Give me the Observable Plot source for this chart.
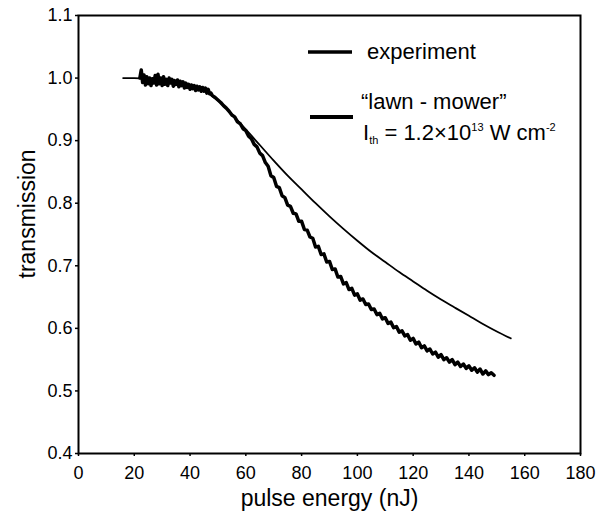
<!DOCTYPE html>
<html>
<head>
<meta charset="utf-8">
<script src="https://cdn.jsdelivr.net/npm/d3@7"></script>
<script src="https://cdn.jsdelivr.net/npm/@observablehq/plot@0.6"></script>
<style>
  html, body { margin: 0; padding: 0; background: white; }
  svg { display: block; }
</style>
</head>
<body>
<div id="chart"></div>
<script>
// Tick values
const xTicks = [0, 20, 40, 60, 80, 100, 120, 140, 160, 180];
const yTicks = [0.4, 0.5, 0.6, 0.7, 0.8, 0.9, 1.0, 1.1];

// "lawn - mower" model curve (pulse energy nJ, transmission)
const theoryE = [16, 20, 25, 30, 35, 40, 45, 50, 55, 60, 65, 70, 75, 80, 85, 90, 95, 100, 105, 110, 115, 120, 125, 130, 135, 140, 145, 150, 155];
const theoryT = [1.000, 1.000, 0.999, 0.997, 0.993, 0.988, 0.980, 0.964, 0.942, 0.918, 0.893, 0.868, 0.844, 0.822, 0.800, 0.779, 0.759, 0.740, 0.722, 0.706, 0.690, 0.675, 0.660, 0.646, 0.633, 0.620, 0.607, 0.595, 0.584];

// experiment trace (pulse energy nJ, transmission)
const expE = [22.0, 22.5, 23.0, 23.5, 24.0, 24.5, 25.0, 25.5, 26.0, 26.5, 27.0, 27.5, 28.0, 28.5, 29.0, 29.5, 30.0, 30.5, 31.0, 31.5, 32.0, 32.5, 33.0, 33.5, 34.0, 34.5, 35.0, 35.5, 36.0, 36.5, 37.0, 37.5, 38.0, 38.5, 39.0, 39.5, 40.0, 40.5, 41.0, 41.5, 42.0, 42.5, 43.0, 43.5, 44.0, 44.5, 45.0, 45.5, 46.0, 46.5, 47.0, 47.5,
  48, 49, 50, 51, 52, 53, 54, 55, 56, 57, 58, 59, 60, 61, 62, 63, 64, 65, 66, 67, 68, 69, 70, 71, 72, 73, 74, 75, 76, 77, 78, 79, 80, 81, 82, 83, 84, 85, 86, 87, 88, 89, 90, 91, 92, 93, 94, 95, 96, 97, 98, 99, 100, 101, 102, 103, 104, 105, 106, 107, 108, 109, 110,
  111, 112, 113, 114, 115, 116, 117, 118, 119, 120, 121, 122, 123, 124, 125, 126, 127, 128, 129, 130, 131, 132, 133, 134, 135, 136, 137, 138, 139, 140, 141, 142, 143, 144, 145, 146, 147, 148, 149, 149.5];
const expT = [1.000, 1.013, 0.993, 1.005, 0.989, 1.002, 0.991, 1.000, 0.988, 0.999, 0.992, 1.004, 0.989, 1.006, 0.991, 1.000, 0.988, 1.002, 0.990, 0.998, 0.988, 1.000, 0.992, 0.998, 0.987, 0.996, 0.990, 0.997, 0.986, 0.995, 0.988, 0.994, 0.984, 0.992, 0.985, 0.990, 0.982, 0.989, 0.983, 0.988, 0.980, 0.987, 0.981, 0.986, 0.979, 0.985, 0.979, 0.984, 0.976, 0.982, 0.975, 0.976,
  0.972, 0.969, 0.965, 0.961, 0.956, 0.952, 0.947, 0.941, 0.938, 0.930, 0.927, 0.919, 0.916, 0.907, 0.903, 0.894, 0.890, 0.880, 0.876, 0.865, 0.859, 0.844, 0.841, 0.827, 0.825, 0.812, 0.809, 0.797, 0.795, 0.784, 0.783, 0.771, 0.771, 0.758, 0.757, 0.746, 0.744, 0.730, 0.731, 0.718, 0.719, 0.706, 0.707, 0.694, 0.695, 0.682, 0.683, 0.671, 0.673, 0.662, 0.664, 0.653, 0.655, 0.645, 0.647, 0.638, 0.639, 0.630, 0.631, 0.622, 0.624, 0.615, 0.617,
  0.608, 0.610, 0.601, 0.603, 0.594, 0.596, 0.588, 0.590, 0.581, 0.584, 0.575, 0.578, 0.569, 0.572, 0.564, 0.567, 0.559, 0.562, 0.554, 0.558, 0.550, 0.553, 0.546, 0.550, 0.542, 0.546, 0.539, 0.543, 0.536, 0.540, 0.533, 0.537, 0.530, 0.535, 0.527, 0.532, 0.526, 0.529, 0.525];

const theory = theoryE.map((e, i) => ({E: e, T: theoryT[i]}));
const experiment = expE.map((e, i) => ({E: e, T: expT[i]}));

const font = "'Liberation Sans', Arial, Helvetica, sans-serif";

const chart = Plot.plot({
  width: 599,
  height: 518,
  marginLeft: 78,
  marginRight: 19,
  marginTop: 15,
  marginBottom: 65,
  style: {fontFamily: font, fontSize: "18px", color: "black", background: "white"},
  x: {domain: [0, 180], label: null},
  y: {domain: [0.4, 1.1], label: null},
  marks: [
    Plot.axisX({ticks: xTicks, tickSize: 3, tickPadding: 10, label: null, strokeWidth: 1.5}),
    Plot.axisY({ticks: yTicks, tickSize: 3, tickPadding: 3, tickFormat: d => d.toFixed(1), label: null, strokeWidth: 1.5}),
    Plot.frame({stroke: "black", strokeWidth: 2}),
    Plot.line(theory, {x: "E", y: "T", stroke: "black", strokeWidth: 1.8, curve: "monotone-x"}),
    Plot.line(experiment, {x: "E", y: "T", stroke: "black", strokeWidth: 3.5, strokeLinejoin: "round"}),
    Plot.text(["pulse energy (nJ)"], {frameAnchor: "bottom", dy: 52, fontSize: 23, fill: "black"}),
    Plot.text(["transmission"], {frameAnchor: "left", dx: -51, dy: 44, rotate: -90, fontSize: 23, fill: "black"})
  ]
});

document.getElementById("chart").appendChild(chart);

// Legend (inside the plot area, top right)
const svg = d3.select(chart);
const lg = svg.append("g").attr("font-family", font).attr("fill", "black").attr("text-anchor", "start");
lg.append("line").attr("x1", 308).attr("x2", 352).attr("y1", 52).attr("y2", 52)
  .attr("stroke", "black").attr("stroke-width", 3.5);
lg.append("text").attr("x", 367).attr("y", 59).attr("font-size", 22).text("experiment");
lg.append("line").attr("x1", 310).attr("x2", 353).attr("y1", 117).attr("y2", 117)
  .attr("stroke", "black").attr("stroke-width", 4);
lg.append("text").attr("x", 361).attr("y", 109).attr("font-size", 22).text("\u201Clawn - mower\u201D");
const f = lg.append("text").attr("x", 363).attr("y", 140).attr("font-size", 22);
f.append("tspan").text("I");
f.append("tspan").attr("font-size", 11).attr("dy", 4).text("th");
f.append("tspan").attr("dy", -4).text(" = 1.2\u00D710");
f.append("tspan").attr("font-size", 11).attr("dy", -9).text("13");
f.append("tspan").attr("dy", 9).text(" W cm");
f.append("tspan").attr("font-size", 11).attr("dy", -9).text("-2");
</script>
</body>
</html>
